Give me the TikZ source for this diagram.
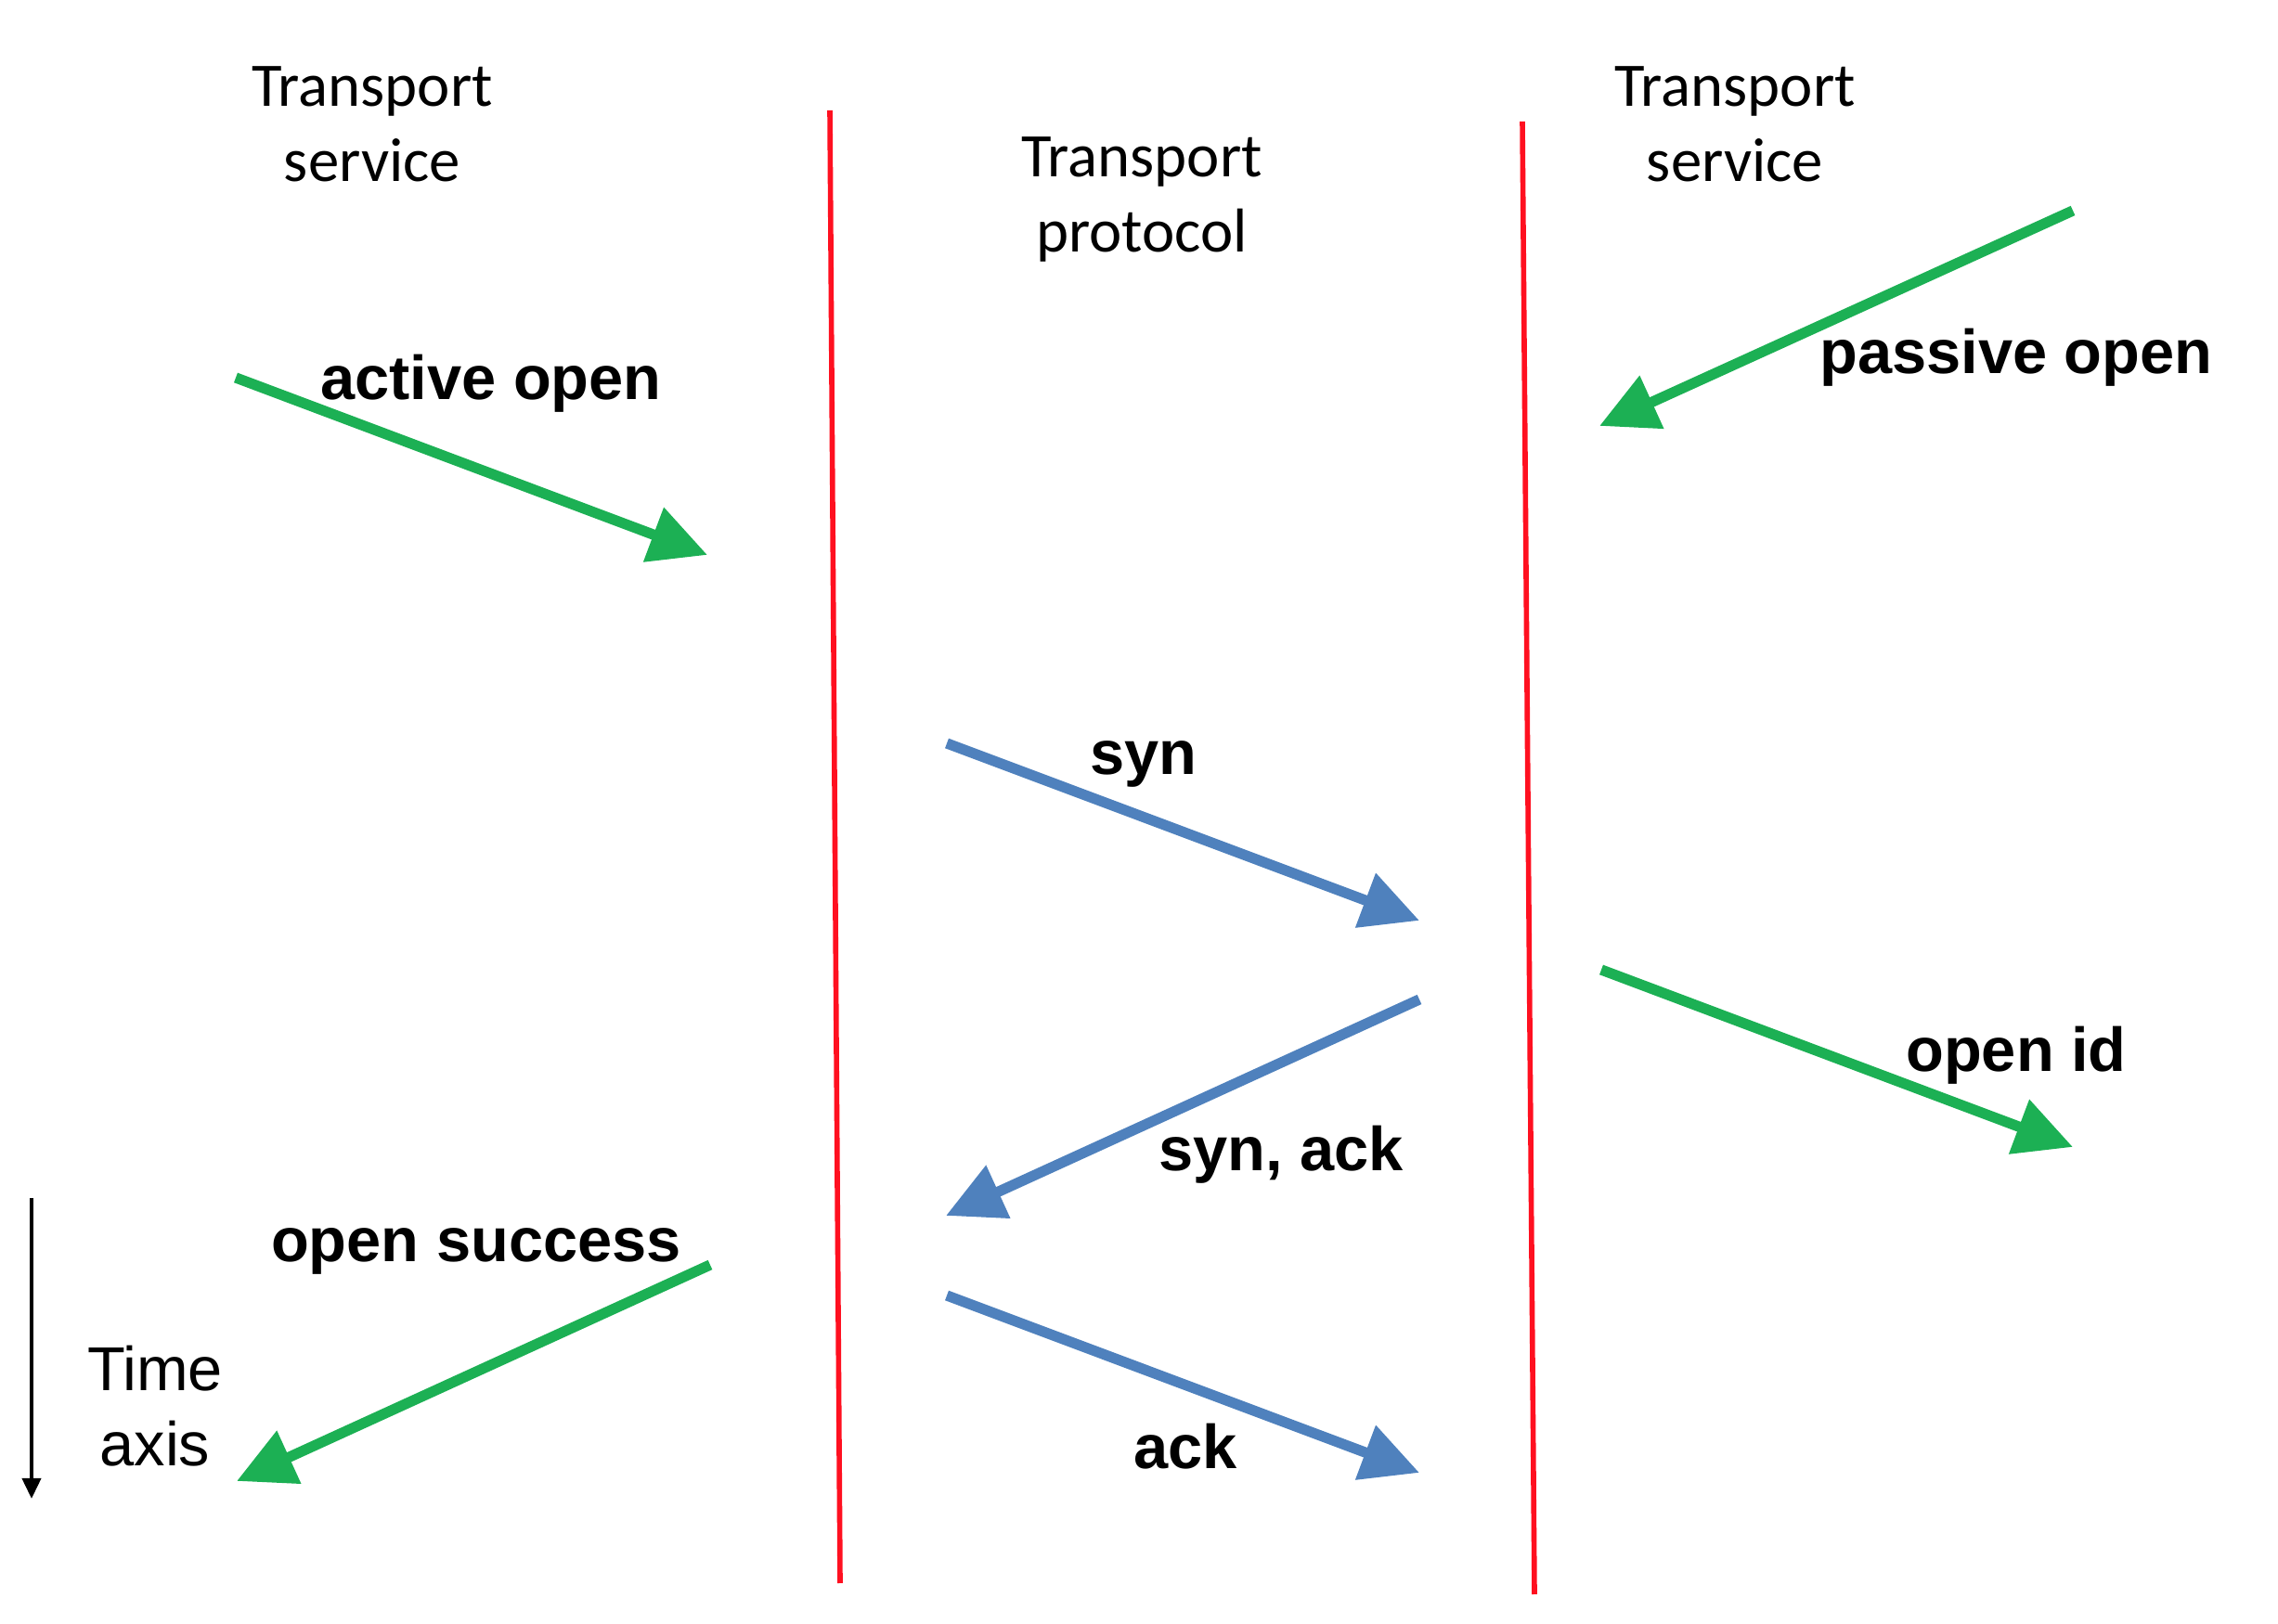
\documentclass[tikz,border=0pt]{standalone}
\usepackage{fontspec}
\usepackage{xcolor}
\usetikzlibrary{positioning, arrows.meta}
\setmainfont{Liberation Sans}
\newfontfamily\headfont{Carlito}
\definecolor{msggreen}{HTML}{1CB054}
\definecolor{msgblue}{HTML}{4F81BD}
\definecolor{layerred}{HTML}{FF1020}

\begin{document}
\begin{tikzpicture}[
        head/.style={align=center, font=\headfont\fontsize{19}{23}\selectfont, text=black},
        lbl/.style={font=\bfseries\fontsize{19}{23}\selectfont, text=black},
        service/.style={-{Triangle[length=0.62cm, width=0.6cm]}, line width=3.2pt, msggreen},
        proto/.style={-{Triangle[length=0.62cm, width=0.6cm]}, line width=3.2pt, msgblue},
        layer/.style={line width=1.6pt, layerred}
      ]
        \useasboundingbox (0,0) rectangle (24.54,17.5);

        % column headings
        \node[head] (lsvc) at (4.01,16.16) {Transport\\service};
        \node[head] (tproto) at (12.30,15.35) {Transport\\protocol};
        \node[head] (rsvc) at (18.69,16.16) {Transport\\service};

        % layer borders
        \coordinate (b1top) at (8.94,16.31);
        \coordinate (b1bot) at (9.05,0.44);
        \coordinate (b2top) at (16.40,16.19);
        \coordinate (b2bot) at (16.53,0.32);
        \draw[layer] (b1top) -- (b1bot);
        \draw[layer] (b2top) -- (b2bot);

        % message end points
        \coordinate (aoS) at (2.54,13.43);
        \coordinate (aoE) at (7.62,11.52);
        \coordinate (poS) at (22.33,15.23);
        \coordinate (poE) at (17.23,12.91);
        \coordinate (synS) at (10.20,9.49);
        \coordinate (synE) at (15.29,7.58);
        \coordinate (saS) at (15.29,6.73);
        \coordinate (saE) at (10.19,4.40);
        \coordinate (oiS) at (17.25,7.05);
        \coordinate (oiE) at (22.33,5.14);
        \coordinate (osS) at (7.65,3.87);
        \coordinate (osE) at (2.55,1.54);
        \coordinate (ackS) at (10.20,3.54);
        \coordinate (ackE) at (15.29,1.63);

        \draw[service] (aoS) -- (aoE);
        \draw[service] (poS) -- (poE);
        \draw[proto] (synS) -- (synE);
        \draw[proto] (saS) -- (saE);
        \draw[service] (oiS) -- (oiE);
        \draw[service] (osS) -- (osE);
        \draw[proto] (ackS) -- (ackE);

        % message labels
        \node[lbl] (aolbl) at (5.29,13.37) {active open};
        \node[lbl] (polbl) at (21.72,13.65) {passive open};
        \node[lbl] (synlbl) at (12.32,9.27) {syn};
        \node[lbl] (salbl) at (13.80,5.06) {syn, ack};
        \node[lbl] (oilbl) at (21.72,6.13) {open id};
        \node[lbl] (oslbl) at (5.13,4.02) {open success};
        \node[lbl] (acklbl) at (12.77,1.91) {ack};

        % time axis
        \coordinate (tTop) at (0.34,4.59);
        \coordinate (tBot) at (0.34,1.35);
        \draw[-{Triangle[length=0.22cm, width=0.2cm]}, line width=1.1pt] (tTop) -- (tBot);
        \node[align=center, font=\fontsize{19}{23}\selectfont] (tlbl) at (1.67,2.35) {Time\\axis};
      \end{tikzpicture}
\end{document}
